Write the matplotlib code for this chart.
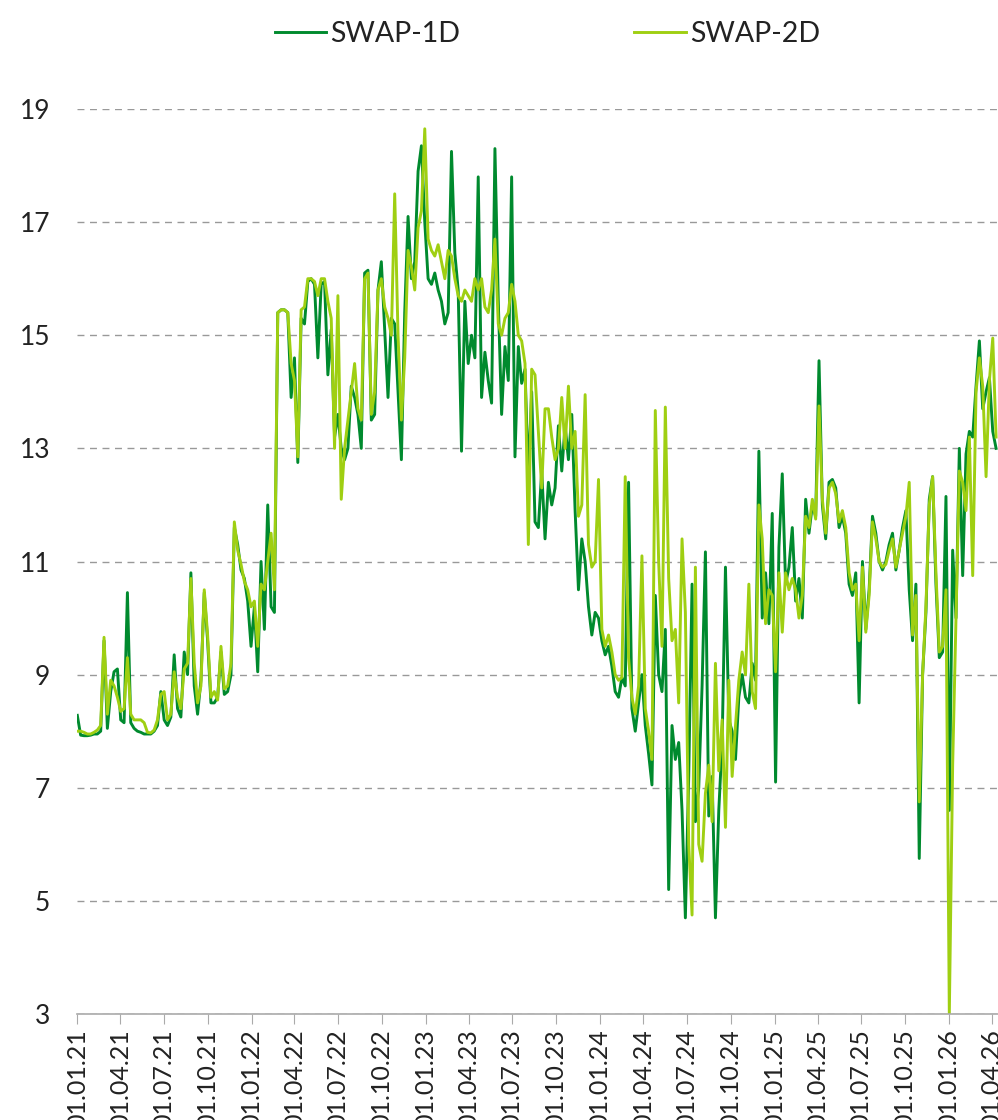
import matplotlib
matplotlib.use("Agg")
import matplotlib.pyplot as plt
import matplotlib.dates as mdates
import pandas as pd

# weekly readings, starting 01.01.2021
swap_1d = [
    8.28, 7.93, 7.92, 7.92, 7.93, 7.95, 7.95, 8.0, 9.6, 8.05, 8.7, 9.05, 9.1,
    8.2, 8.15, 10.45, 8.15, 8.05, 8.0, 7.98, 7.95, 7.95, 7.95, 8.0, 8.1, 8.7,
    8.2, 8.1, 8.25, 9.35, 8.4, 8.25, 9.4, 9.0, 10.8, 8.8, 8.3, 8.9, 10.45,
    9.6, 8.5, 8.5, 8.6, 9.4, 8.65, 8.7, 9.0, 11.6, 11.3, 10.85, 10.7, 10.3,
    9.5, 10.2, 9.05, 11.0, 9.8, 12.0, 10.2, 10.1, 15.4, 15.45, 15.45, 15.4, 13.9,
    14.6, 12.75, 15.3, 15.2, 15.95, 16.0, 15.9, 14.6, 15.9, 15.95, 14.3, 15.1, 13.2,
    13.6, 13.0, 12.8, 13.0, 14.1, 13.9, 13.6, 13.0, 16.1, 16.15, 13.5, 13.6, 15.8,
    16.3, 15.1, 13.9, 15.3, 15.2, 14.0, 12.8, 15.4, 17.1, 16.0, 16.3, 17.9, 18.35,
    17.0, 16.0, 15.9, 16.1, 15.8, 15.6, 15.2, 15.4, 18.25, 16.45, 15.8, 12.95, 15.6,
    14.5, 15.0, 14.6, 17.8, 13.9, 14.7, 14.2, 13.8, 18.3, 15.6, 13.6, 14.8, 14.2,
    17.8, 12.85, 14.8, 14.15, 14.4, 12.5, 14.0, 11.7, 11.6, 12.6, 11.4, 12.4, 12.0,
    12.3, 13.4, 12.6, 13.4, 12.8, 13.6, 11.9, 10.5, 11.4, 11.0, 10.2, 9.7, 10.1,
    10.0, 9.6, 9.35, 9.5, 9.15, 8.7, 8.6, 8.95, 8.8, 12.4, 8.4, 8.0, 8.5,
    9.0, 8.1, 7.6, 7.05, 10.4, 9.0, 8.7, 9.8, 5.2, 8.1, 7.5, 7.8, 6.6,
    4.7, 7.2, 10.6, 6.4, 7.0, 8.8, 11.17, 6.5, 7.2, 4.7, 6.6, 7.8, 10.9,
    8.2, 8.0, 7.5, 8.6, 9.0, 8.6, 8.5, 9.2, 8.9, 12.95, 10.0, 10.8, 9.9,
    11.85, 7.1, 11.25, 12.55, 10.6, 10.9, 11.6, 10.3, 10.7, 10.0, 12.1, 11.5, 12.0,
    11.8, 14.55, 12.0, 11.4, 12.4, 12.45, 12.3, 11.6, 11.8, 11.5, 10.6, 10.4, 10.8,
    8.5, 11.0, 9.8, 10.5, 11.8, 11.5, 11.0, 10.85, 11.0, 11.3, 11.5, 10.85, 11.2,
    11.6, 11.9, 10.5, 9.6, 10.6, 5.75, 9.0, 10.1, 12.1, 12.5, 10.6, 9.3, 9.4,
    12.15, 6.6, 11.2, 10.0, 13.0, 10.75, 12.9, 13.3, 13.2, 14.1, 14.9, 13.7, 14.0,
    14.25, 13.3, 13.0,
]

swap_2d = [
    8.0, 8.0, 7.98, 7.95, 7.95, 7.98, 8.02, 8.1, 9.66, 8.3, 8.9, 8.8, 8.6,
    8.35, 8.4, 9.3, 8.3, 8.2, 8.2, 8.2, 8.15, 7.98, 7.97, 8.02, 8.2, 8.65,
    8.7, 8.2, 8.3, 9.05, 8.6, 8.4, 9.1, 9.2, 10.7, 9.2, 8.5, 8.8, 10.5,
    9.7, 8.6, 8.7, 8.55, 9.5, 8.75, 8.8, 9.2, 11.7, 11.2, 10.95, 10.65, 10.5,
    10.2, 10.3, 9.5, 10.6, 10.5, 11.0, 11.5, 10.5, 15.4, 15.45, 15.45, 15.4, 14.5,
    14.2, 12.85, 15.45, 15.5, 16.0, 16.0, 15.95, 15.7, 16.0, 16.0, 15.6, 15.3, 13.0,
    15.7, 12.1, 13.0, 13.5, 14.0, 14.5, 13.7, 13.5, 16.0, 16.1, 13.6, 14.0, 15.8,
    16.0, 15.5, 15.3, 15.0, 17.5, 15.0, 13.5, 14.6, 16.5, 16.2, 15.8, 16.9, 17.2,
    18.65, 16.7, 16.5, 16.4, 16.6, 16.3, 16.0, 16.5, 16.4, 16.0, 15.7, 15.6, 15.8,
    15.7, 15.6, 16.0, 15.8, 16.0, 15.5, 15.4, 15.8, 16.7, 15.2, 15.0, 15.3, 15.4,
    15.9, 15.6, 15.0, 14.9, 14.5, 11.3, 14.4, 14.3, 13.3, 12.3, 13.7, 13.7, 13.2,
    12.8, 13.0, 13.9, 13.0, 14.1, 13.0, 13.3, 11.8, 12.0, 13.95, 11.3, 10.9, 11.0,
    12.45, 9.8, 9.5, 9.7, 9.4, 9.0, 8.9, 8.95, 12.5, 9.3, 8.6, 8.3, 8.8,
    11.1, 8.4, 8.0, 7.5, 13.67, 11.0, 9.5, 13.73, 10.7, 9.6, 9.8, 8.5, 11.4,
    10.1, 6.0, 4.75, 10.9, 6.0, 5.7, 6.9, 7.4, 6.4, 9.2, 7.3, 8.2, 6.3,
    8.9, 7.2, 8.1, 8.9, 9.4, 9.0, 10.6, 8.7, 8.4, 12.0, 11.4, 9.9, 10.5,
    10.4, 9.05, 10.8, 9.75, 10.8, 10.5, 10.7, 10.5, 10.0, 10.4, 11.8, 11.6, 12.1,
    11.75, 13.75, 12.1, 11.5, 12.3, 12.4, 12.2, 11.7, 11.9, 11.6, 10.8, 10.5, 10.6,
    9.6, 10.9, 9.75, 10.4, 11.7, 11.4, 11.0, 10.9, 10.95, 11.2, 11.4, 10.9, 11.2,
    11.5, 11.8, 12.4, 9.7, 10.4, 6.75, 9.0, 10.2, 12.0, 12.5, 10.8, 9.4, 9.5,
    10.5, 3.0, 7.4, 10.0, 12.6, 12.4, 11.9, 13.2, 10.75, 14.0, 14.6, 14.1, 12.5,
    14.2, 14.95, 13.2,
]

dates = pd.date_range("2021-01-01", periods=len(swap_1d), freq="7D")
y_ticks = [3, 5, 7, 9, 11, 13, 15, 17, 19]

plt.rcParams["font.family"] = ["Lato", "DejaVu Sans"]

fig = plt.figure(figsize=(9.98, 11.2), dpi=100)
ax = fig.add_axes([77.3 / 998, 106 / 1120, 920.7 / 998, 905 / 1120])

ax.plot(dates, swap_1d, color="#008a2e", lw=2.1, label="SWAP-1D")
ax.plot(dates, swap_2d, color="#9fcf12", lw=2.1, label="SWAP-2D")

ax.set_ylim(3, 19)
ax.set_xlim(pd.Timestamp("2021-01-01"), pd.Timestamp("2026-04-14"))
ax.set_yticks(y_ticks)
ax.xaxis.set_major_locator(mdates.MonthLocator(bymonth=[1, 4, 7, 10], bymonthday=1))
ax.xaxis.set_major_formatter(mdates.DateFormatter("%d.%m.%y"))

ax.grid(axis="y", color="#999999", linestyle=(0, (5, 4)), linewidth=1.0)
ax.set_axisbelow(True)
for side in ["left", "right", "top"]:
    ax.spines[side].set_visible(False)
ax.spines["bottom"].set_color("#aaaaaa")
ax.spines["bottom"].set_linewidth(1.2)

ax.tick_params(axis="x", rotation=90, length=7, color="#aaaaaa", labelsize=18,
               labelcolor="#222222", pad=4)
ax.tick_params(axis="y", length=0, labelsize=19, labelcolor="#222222", pad=19.5)

leg = fig.legend(loc="upper center", bbox_to_anchor=(0.5486, 1.004), ncol=2,
                 frameon=False, fontsize=20.5, handlelength=1.8, handletextpad=0.17,
                 columnspacing=6.1)
for t in leg.get_texts():
    t.set_color("#222222")

fig.savefig("out.png", dpi=100)
